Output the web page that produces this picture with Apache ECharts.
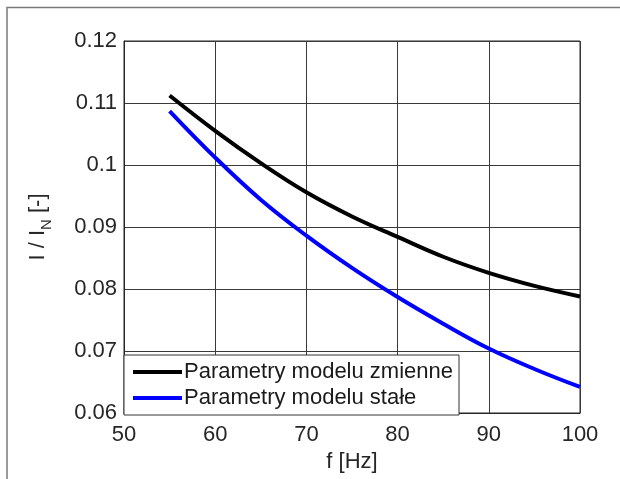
<!DOCTYPE html>
<html>
<head>
<meta charset="utf-8">
<script src="https://cdn.jsdelivr.net/npm/echarts@6/dist/echarts.min.js"></script>
<style>html,body{margin:0;padding:0;background:#fff}#c{width:620px;height:479px}</style>
</head>
<body>
<div id="c"></div>
<script>
var freq = [55, 60, 65, 70, 75, 80, 85, 90, 95, 100];
var zmienne = [0.1112, 0.1055, 0.1003, 0.0956, 0.0917, 0.0884, 0.0852, 0.0826, 0.0805, 0.0788];
var stale = [0.1087, 0.1012, 0.0944, 0.0886, 0.0834, 0.0787, 0.0744, 0.0704, 0.0671, 0.0642];
var seriesNames = ['Parametry modelu zmienne', 'Parametry modelu stałe'];
var xTicks = [50, 60, 70, 80, 90, 100];
var yTicks = [0.06, 0.07, 0.08, 0.09, 0.1, 0.11, 0.12];

function pairs(xs, ys) { return xs.map(function (x, i) { return [x, ys[i]]; }); }

var FONT = 'Liberation Sans, Arial, sans-serif';
var FS = 22;
var chart = echarts.init(document.getElementById('c'), null, { renderer: 'canvas' });
chart.setOption({
  animation: false,
  backgroundColor: '#fff',
  textStyle: { fontFamily: FONT },
  graphic: [{
    type: 'rect', z: 100, silent: true,
    shape: { x: 7, y: 7.5, width: 640, height: 500 },
    style: { fill: 'none', stroke: '#7a7a7a', lineWidth: 1.5 }
  }],
  grid: { left: 124, right: 40, top: 41, bottom: 66, show: true, borderColor: '#262626', borderWidth: 1, backgroundColor: 'transparent' },
  legend: {
    orient: 'vertical', left: 124, top: 355,
    data: seriesNames,
    icon: 'rect', itemWidth: 49, itemHeight: 4, itemGap: 4,
    padding: [6, 6, 6, 9],
    backgroundColor: '#fff', borderColor: '#333', borderWidth: 1, borderRadius: 0,
    textStyle: { fontFamily: FONT, fontSize: FS, color: '#1a1a1a', lineHeight: 22, padding: [0, 0, 0, -3] }
  },
  xAxis: {
    type: 'value', min: 50, max: 100, interval: 10,
    name: 'f [Hz]', nameLocation: 'middle', nameGap: 37,
    nameTextStyle: { fontFamily: FONT, fontSize: FS, color: '#262626' },
    axisLine: { show: true, lineStyle: { color: '#262626', width: 1 } },
    axisTick: { show: false },
    axisLabel: { fontFamily: FONT, fontSize: FS, color: '#262626', margin: 11,
      formatter: function (v) { return xTicks.indexOf(v) >= 0 ? String(v) : ''; } },
    splitLine: { show: true, lineStyle: { color: '#3a3a3a', width: 1 } }
  },
  yAxis: {
    type: 'value', min: 0.06, max: 0.12, interval: 0.01,
    name: '{a|I / I}{s|N}{a| [-]}', nameLocation: 'middle', nameGap: 70, nameRotate: 90,
    nameTextStyle: {
      fontFamily: FONT, color: '#262626',
      rich: {
        a: { fontFamily: FONT, fontSize: FS, color: '#262626', lineHeight: 32, verticalAlign: 'middle' },
        s: { fontFamily: FONT, fontSize: 15, color: '#262626', lineHeight: 32, verticalAlign: 'bottom' }
      }
    },
    axisLine: { show: true, lineStyle: { color: '#262626', width: 1 } },
    axisTick: { show: false },
    axisLabel: { fontFamily: FONT, fontSize: FS, color: '#262626', margin: 7,
      formatter: function (v) {
        var r = Math.round(v * 100) / 100;
        return yTicks.indexOf(r) >= 0 ? String(r) : '';
      } },
    splitLine: { show: true, lineStyle: { color: '#3a3a3a', width: 1 } }
  },
  series: [
    { name: seriesNames[0], type: 'line', data: pairs(freq, zmienne), smooth: 0.4, showSymbol: false,
      lineStyle: { color: '#000', width: 4 }, itemStyle: { color: '#000' }, z: 3 },
    { name: seriesNames[1], type: 'line', data: pairs(freq, stale), smooth: 0.4, showSymbol: false,
      lineStyle: { color: '#0000ff', width: 4 }, itemStyle: { color: '#0000ff' }, z: 3 }
  ]
});
</script>
</body>
</html>
